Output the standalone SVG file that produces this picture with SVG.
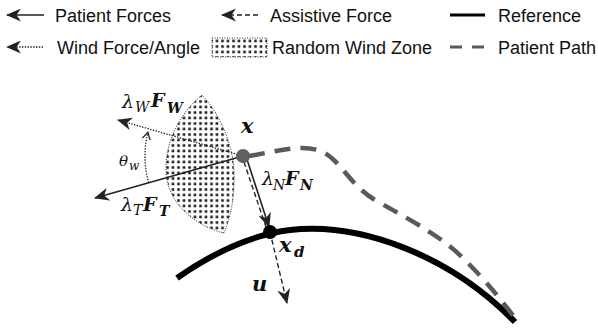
<svg xmlns="http://www.w3.org/2000/svg" width="598" height="331" viewBox="0 0 598 331">
<style>
.lg{font-family:"Liberation Sans",Arial,sans-serif;font-size:18px;fill:#111}
.m{font-family:"DejaVu Serif","Liberation Serif",serif;font-style:italic;fill:#111}
.mb{font-family:"DejaVu Serif","Liberation Serif",serif;font-style:italic;font-weight:bold;fill:#111}
.solid{stroke:#222;stroke-width:1.6;fill:none}
.dash{stroke:#222;stroke-width:1.4;fill:none;stroke-dasharray:5 3}
.dot{stroke:#222;stroke-width:1.3;fill:none;stroke-dasharray:1.4 1.4}
.ref{stroke:#000;stroke-width:6;fill:none}
.path{stroke:#5a5a5a;stroke-width:4.5;fill:none;stroke-dasharray:16 10}
</style>
<defs>
<marker id="ah" viewBox="0 0 15 13" refX="14" refY="6.5" markerWidth="15" markerHeight="13" markerUnits="userSpaceOnUse" orient="auto">
<path d="M15,6.5 L0,0 L4.5,6.5 L0,13 Z" fill="#222"/>
</marker>
<marker id="open" viewBox="0 0 10 10" refX="8" refY="5" markerWidth="10" markerHeight="10" markerUnits="userSpaceOnUse" orient="auto">
<path d="M1,1 L8,5 L1,9" fill="none" stroke="#222" stroke-width="1.3"/>
</marker>
<pattern id="dots" width="5.5" height="5.5" patternUnits="userSpaceOnUse">
<rect x="1.2" y="1.2" width="2.6" height="2.6" fill="#1a1a1a"/>
</pattern>
</defs>

<g id="legend">
<g id="leg-patient">
<line x1="44" y1="15" x2="7" y2="15" class="solid" marker-end="url(#ah)"/>
<text x="55" y="22" class="lg">Patient Forces</text>
</g>
<g id="leg-assist">
<line x1="258" y1="15" x2="222" y2="15" class="dash" marker-end="url(#ah)"/>
<text x="270" y="22" class="lg">Assistive Force</text>
</g>
<g id="leg-ref">
<line x1="450" y1="15" x2="485" y2="15" stroke="#000" stroke-width="3"/>
<text x="498" y="22" class="lg">Reference</text>
</g>
<g id="leg-wind">
<line x1="43" y1="47" x2="7" y2="47" class="dot" marker-end="url(#ah)"/>
<text x="57" y="54" class="lg">Wind Force/Angle</text>
</g>
<g id="leg-zone">
<rect x="212" y="38" width="55" height="19" fill="url(#dots)" stroke="#333" stroke-width="1" stroke-dasharray="1 1.5"/>
<text x="272" y="54" class="lg">Random Wind Zone</text>
</g>
<g id="leg-path">
<line x1="450" y1="47" x2="485" y2="47" stroke="#5a5a5a" stroke-width="3" stroke-dasharray="12 10"/>
<text x="498" y="54" class="lg">Patient Path</text>
</g>
</g>

<g id="wind-zone">
<path d="M202,95 C176,116 162,150 167,180 C172,206 196,226 224,233 C233,212 236,185 233,160 C228,132 216,110 202,95 Z" fill="url(#dots)" stroke="#333" stroke-width="1" stroke-dasharray="1 1.5"/>
</g>

<g id="reference">
<path class="ref" d="M177,278 C210,255 250,235 290,230 C360,222 450,255 515,322"/>
</g>

<g id="patient-path">
<path class="path" d="M249,156 C275,152 305,142 325,153 C342,163 350,185 375,200 C410,220 440,235 465,260 C490,285 505,305 518,322"/>
</g>

<g id="connectors">
<line x1="243" y1="156" x2="118" y2="120" class="dot" marker-end="url(#ah)"/>
<line x1="243" y1="156" x2="95" y2="198" class="solid" marker-end="url(#ah)"/>
<path d="M148.7,182.8 A98,98 0 0 1 147.9,132.3" class="dot" marker-end="url(#open)"/>
<line x1="244" y1="162" x2="266" y2="227" class="dash"/>
<line x1="247.5" y1="161" x2="269" y2="227" class="solid" marker-end="url(#ah)"/>
<line x1="270" y1="232" x2="287" y2="303" class="dash" marker-end="url(#ah)"/>
</g>

<g id="node-x">
<circle cx="243" cy="156" r="7" fill="#606060"/>
<text x="241" y="133" class="mb" font-size="21">x</text>
</g>

<g id="node-xd">
<circle cx="270" cy="232" r="7" fill="#000"/>
<text x="279" y="252" class="mb" font-size="21">x</text>
<text x="294" y="257" class="mb" font-size="15">d</text>
</g>

<g id="labels">
<text x="122" y="108" class="m" font-size="19">λ</text>
<text x="135" y="112" class="m" font-size="14">W</text>
<text x="151" y="107" class="mb" font-size="19">F</text>
<text x="167" y="113" class="mb" font-size="14">W</text>

<text x="121" y="211" class="m" font-size="19">λ</text>
<text x="133" y="215" class="m" font-size="14">T</text>
<text x="143" y="211" class="mb" font-size="19">F</text>
<text x="159" y="216" class="mb" font-size="14">T</text>

<text x="119" y="166" class="m" font-size="15">θ</text>
<text x="129" y="170" class="m" font-size="12">w</text>

<text x="262" y="185" class="m" font-size="19">λ</text>
<text x="273" y="190" class="m" font-size="14">N</text>
<text x="285" y="185" class="mb" font-size="19">F</text>
<text x="300" y="190" class="mb" font-size="14">N</text>

<text x="252" y="291" class="mb" font-size="21">u</text>
</g>
</svg>
